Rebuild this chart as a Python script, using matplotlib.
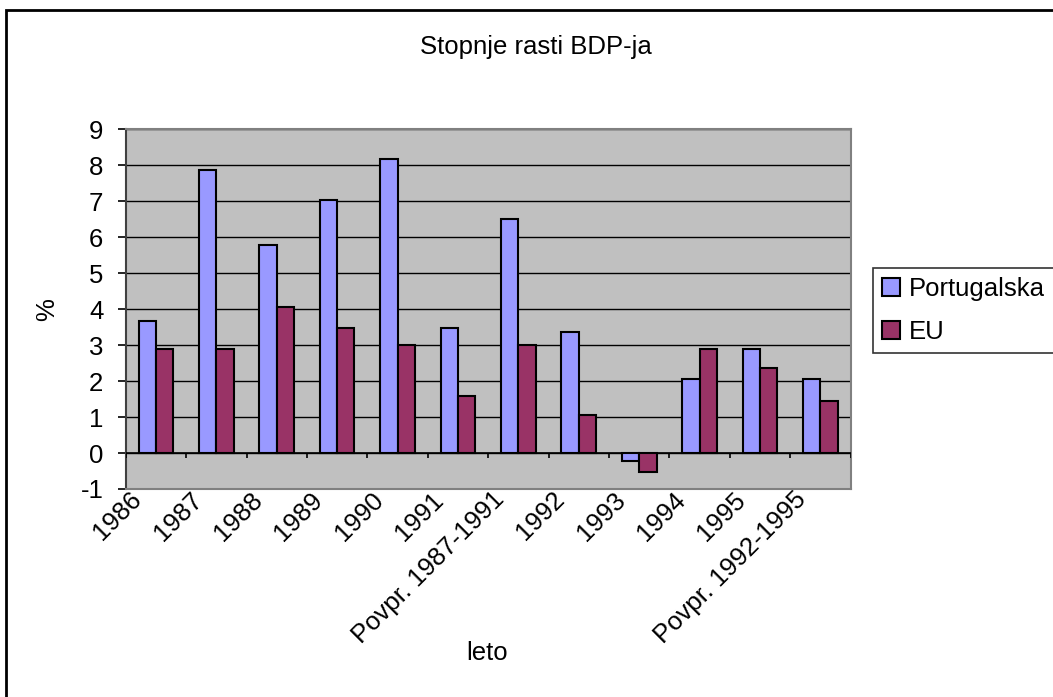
import numpy as np
import matplotlib
matplotlib.use('Agg')
import matplotlib.pyplot as plt
import matplotlib.transforms as mtransforms
from matplotlib.patches import Rectangle, Patch

categories = ['1986', '1987', '1988', '1989', '1990', '1991', 'Povpr. 1987-1991',
              '1992', '1993', '1994', '1995', 'Povpr. 1992-1995']
portugalska = [3.66, 7.87, 5.79, 7.04, 8.17, 3.47, 6.51, 3.37, -0.22, 2.06, 2.89, 2.06]
eu = [2.89, 2.89, 4.07, 3.47, 3.0, 1.59, 3.0, 1.06, -0.53, 2.89, 2.36, 1.46]
y_ticks = [-1, 0, 1, 2, 3, 4, 5, 6, 7, 8, 9]

plt.rcParams['font.family'] = ['Liberation Sans', 'DejaVu Sans']
plt.rcParams['axes.unicode_minus'] = False
fs = 18.5

fig = plt.figure(figsize=(10.53, 6.97), dpi=100)
ax = fig.add_axes([125.7 / 1053, 1 - 489 / 697, 725 / 1053, 359.7 / 697])
ax.set_facecolor('#c0c0c0')

x = np.arange(len(categories))
w = 0.287
ax.bar(x - w / 2, portugalska, w, color='#9999ff', edgecolor='black', linewidth=1.5, zorder=3)
ax.bar(x + w / 2, eu, w, color='#993366', edgecolor='black', linewidth=1.5, zorder=3)

ax.set_xlim(-0.5, len(categories) - 0.5)
ax.set_ylim(-1, 9)
ax.set_yticks(y_ticks)
ax.yaxis.grid(True, color='black', linewidth=1)
ax.set_axisbelow(True)

# zero line with boundary tick marks
ax.axhline(0, color='black', linewidth=1.2, zorder=4)
bounds = np.arange(len(categories) + 1) - 0.5
ax.vlines(bounds, -0.15, 0, color='black', linewidth=1.2, zorder=4)

for side in ['top', 'right', 'bottom']:
    ax.spines[side].set_color('#808080')
    ax.spines[side].set_linewidth(1.5)
ax.spines['left'].set_color('#404040')
ax.spines['left'].set_linewidth(1.5)

ax.tick_params(axis='y', direction='out', length=6, width=1.2, pad=10, labelsize=fs)
ax.set_xticks(x, categories)
ax.tick_params(axis='x', length=0, pad=5, labelsize=fs)
offset = mtransforms.ScaledTranslation(-18 / 100, 0, fig.dpi_scale_trans)
for lab in ax.get_xticklabels():
    lab.set_rotation(45)
    lab.set_ha('right')
    lab.set_va('center')
    lab.set_rotation_mode('anchor')
    lab.set_transform(lab.get_transform() + offset)

fig.text(536 / 1053, 1 - 47 / 697, 'Stopnje rasti BDP-ja', ha='center', va='center', fontsize=fs)
fig.text(47 / 1053, 1 - 310 / 697, '%', ha='center', va='center', rotation=90, fontsize=fs)
fig.text(487 / 1053, 1 - 653 / 697, 'leto', ha='center', va='center', fontsize=fs)

handles = [Patch(facecolor='#9999ff', edgecolor='black', linewidth=1.5),
           Patch(facecolor='#993366', edgecolor='black', linewidth=1.5)]
leg = fig.legend(handles, ['Portugalska', 'EU'], loc='upper left',
                 bbox_to_anchor=(873 / 1053, 1 - 268 / 697), fontsize=fs,
                 frameon=True, fancybox=False, edgecolor='black',
                 handlelength=0.7, handleheight=0.7, handletextpad=0.35,
                 labelspacing=0.75, borderpad=0.35, borderaxespad=0)
leg.get_frame().set_linewidth(1.2)

# outer chart border (cropped at right and bottom)
fig.patches.append(Rectangle((6 / 1053, -0.2), 1.3, 1.2 - 10 / 697, transform=fig.transFigure,
                             fill=False, edgecolor='black', linewidth=2))

fig.savefig('out.png', dpi=100)
